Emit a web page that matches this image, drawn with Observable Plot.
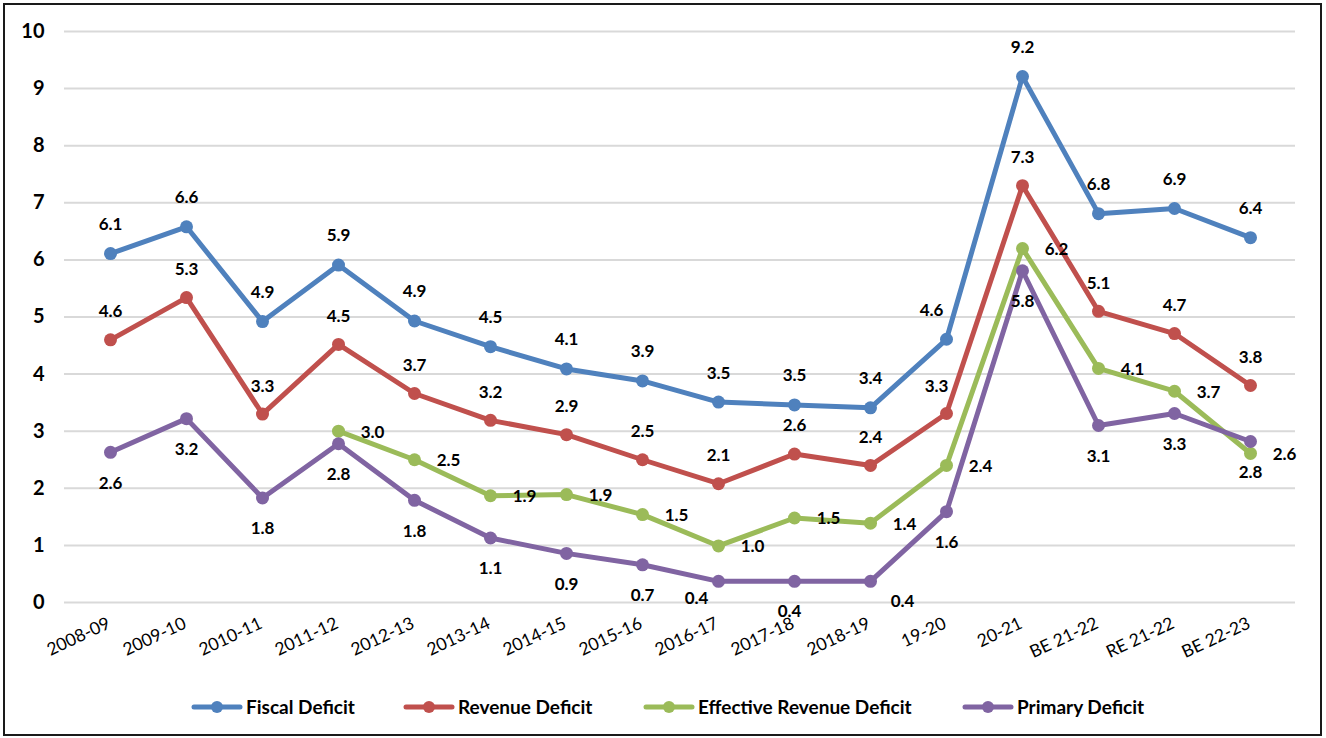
<!DOCTYPE html>
<html>
<head>
<meta charset="utf-8">
<script src="https://cdn.jsdelivr.net/npm/d3@7"></script>
<script src="https://cdn.jsdelivr.net/npm/@observablehq/plot@0.6"></script>
<style>
  html, body { margin: 0; padding: 0; background: #fff; }
  #wrap { position: relative; width: 1326px; height: 738px; overflow: hidden; font-family: Lato, "Open Sans", sans-serif; }
  #frame { position: absolute; left: 3px; top: 3px; width: 1319px; height: 733px; border: 2px solid #1a1a1a; box-sizing: border-box; }
  #chart { position: absolute; left: 0; top: 0; }
  .leg { position: absolute; top: 695px; height: 24px; line-height: 24px; display: flex; align-items: center; font-weight: bold; font-size: 19px; color: #000; white-space: nowrap; }
  .leg svg { margin-right: 3px; }
</style>
</head>
<body>
<div id="wrap">
  <div id="frame"></div>
  <div id="chart"></div>
</div>
<script>
// ---- data ----
const categories = ["2008-09","2009-10","2010-11","2011-12","2012-13","2013-14","2014-15","2015-16","2016-17","2017-18","2018-19","19-20","20-21","BE 21-22","RE 21-22","BE 22-23"];
const fiscalDeficit = [6.11, 6.58, 4.92, 5.91, 4.93, 4.48, 4.09, 3.88, 3.51, 3.46, 3.41, 4.61, 9.21, 6.81, 6.90, 6.39];
const revenueDeficit = [4.60, 5.34, 3.30, 4.52, 3.66, 3.19, 2.94, 2.50, 2.08, 2.60, 2.40, 3.31, 7.30, 5.10, 4.71, 3.80];
const effectiveRevenueDeficit = [null, null, null, 3.00, 2.50, 1.87, 1.89, 1.54, 0.99, 1.48, 1.39, 2.40, 6.20, 4.10, 3.70, 2.61];
const primaryDeficit = [2.63, 3.22, 1.83, 2.78, 1.79, 1.13, 0.86, 0.66, 0.37, 0.37, 0.37, 1.59, 5.81, 3.10, 3.31, 2.82];
const seriesNames = ["Fiscal Deficit", "Revenue Deficit", "Effective Revenue Deficit", "Primary Deficit"];
const yTicks = [0, 1, 2, 3, 4, 5, 6, 7, 8, 9, 10];

// ---- styling / layout ----
const colors = ["#4f81bd", "#c0504d", "#9bbb59", "#8064a2"];
const seriesValues = [fiscalDeficit, revenueDeficit, effectiveRevenueDeficit, primaryDeficit];
const labelDefault = [[0, -29], [0, -28], [34, 1], [0, 31]];
const labelOverride = {
  "Fiscal Deficit|19-20": [-15, -29],
  "Revenue Deficit|19-20": [-10, -27],
  "Primary Deficit|2016-17": [-22, 17],
  "Primary Deficit|2017-18": [-5, 30],
  "Primary Deficit|2018-19": [32, 20]
};
const legendLeft = [191, 403, 643, 962];

const rows = [];
seriesNames.forEach((s, si) => {
  seriesValues[si].forEach((v, i) => {
    if (v == null) return;
    const off = labelOverride[s + "|" + categories[i]] || labelDefault[si];
    rows.push({series: s, cat: categories[i], value: v, dx: off[0], dy: off[1]});
  });
});

const labelGroups = d3.groups(rows, d => d.dx + "," + d.dy);

const marks = [
  Plot.gridY(yTicks, {stroke: "#d9d9d9", strokeOpacity: 1, strokeWidth: 2}),
  Plot.axisY(yTicks, {tickSize: 0, tickPadding: 20, tickFormat: d => String(d), fontSize: 20, fontWeight: "bold", fill: "#000", label: null}),
  Plot.text(categories, {x: d => d, frameAnchor: "bottom", dy: 25, dx: 1, rotate: -25, textAnchor: "end", fontSize: 17.5, fill: "#000"}),
  ...seriesNames.map((s, si) =>
    Plot.line(rows.filter(r => r.series === s), {x: "cat", y: "value", stroke: colors[si], strokeWidth: 5, curve: "linear"})),
  ...seriesNames.map((s, si) =>
    Plot.dot(rows.filter(r => r.series === s), {x: "cat", y: "value", fill: colors[si], r: 6.5})),
  ...labelGroups.map(([k, g]) =>
    Plot.text(g, {x: "cat", y: "value", text: d => d.value.toFixed(1), dx: g[0].dx, dy: g[0].dy, fontSize: 17, fontWeight: "bold", fill: "#000"}))
];

const chart = Plot.plot({
  width: 1326,
  height: 680,
  marginTop: 31,
  marginBottom: 78,
  marginLeft: 64,
  marginRight: 31,
  x: {type: "point", domain: categories, padding: 0.5, axis: null},
  y: {domain: [0, 10], axis: null},
  style: {fontFamily: "Lato, 'Open Sans', sans-serif", background: "transparent", overflow: "visible"},
  marks
});
document.getElementById("chart").appendChild(chart);

// legend
const wrap = document.getElementById("wrap");
seriesNames.forEach((s, si) => {
  const item = document.createElement("div");
  item.className = "leg";
  item.style.left = legendLeft[si] + "px";
  item.innerHTML = `<svg width="52" height="18"><line x1="3" y1="9" x2="49" y2="9" stroke="${colors[si]}" stroke-width="5" stroke-linecap="round"/><circle cx="26" cy="9" r="6" fill="${colors[si]}"/></svg><span>${s}</span>`;
  wrap.appendChild(item);
});
</script>
</body>
</html>
